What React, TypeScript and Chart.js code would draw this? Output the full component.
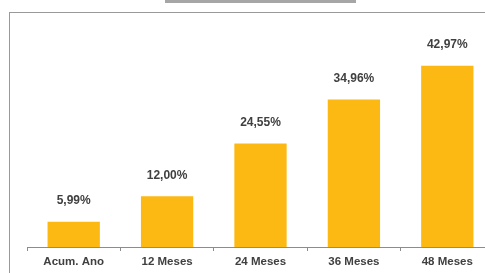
import React, { useEffect, useRef } from "react";
import { Chart, registerables } from "chart.js";

Chart.register(...registerables);

const categories = ["Acum. Ano", "12 Meses", "24 Meses", "36 Meses", "48 Meses"];
const values = [5.99, 12.0, 24.55, 34.96, 42.97];

const BAR_COLOR = "#FDB913";
const TEXT_COLOR = "#404040";
const FONT = "'Liberation Sans', Arial, sans-serif";

const valueLabels = {
  id: "valueLabels",
  afterDatasetsDraw(chart: any) {
    const ctx = chart.ctx;
    const meta = chart.getDatasetMeta(0);
    ctx.save();
    ctx.font = `bold 12px ${FONT}`;
    ctx.fillStyle = TEXT_COLOR;
    ctx.textAlign = "center";
    ctx.textBaseline = "middle";
    meta.data.forEach((bar: any, i: number) => {
      const v = values[i];
      const txt = v.toFixed(2).replace(".", ",") + "%";
      ctx.fillText(txt, bar.x, bar.y - 21);
    });
    ctx.restore();
  },
};

export default function App() {
  const ref = useRef<HTMLCanvasElement | null>(null);

  useEffect(() => {
    document.documentElement.style.overflow = "hidden";
    document.body.style.overflow = "hidden";
    const canvas = ref.current!;
    const chart = new Chart(canvas, {
      type: "bar",
      data: {
        labels: categories,
        datasets: [
          {
            data: values,
            backgroundColor: BAR_COLOR,
            borderWidth: 0,
            categoryPercentage: 1,
            barPercentage: 0.56,
          },
        ],
      },
      options: {
        animation: false,
        responsive: false,
        maintainAspectRatio: false,
        devicePixelRatio: 1,
        layout: { padding: { left: 27, right: 0, top: 36, bottom: 0 } },
        plugins: {
          legend: { display: false },
          tooltip: { enabled: false },
        },
        scales: {
          x: {
            afterFit(scale: any) {
              scale.height = 26;
            },
            grid: {
              display: true,
              drawOnChartArea: false,
              drawTicks: true,
              tickLength: 4,
              color: "#8c8c8c",
              offset: true,
            },
            border: { display: true, color: "#8c8c8c", width: 1 },
            ticks: {
              color: TEXT_COLOR,
              font: { family: FONT, size: 11.5, weight: "bold" },
              padding: 4,
              maxRotation: 0,
              autoSkip: false,
            },
          },
          y: {
            display: false,
            min: 0,
            max: 50,
          },
        },
      },
      plugins: [valueLabels],
    });
    return () => chart.destroy();
  }, []);

  return (
    <div style={{ position: "fixed", left: 0, top: 0, width: 485, height: 273, overflow: "hidden", background: "#fff" }}>
      <div style={{ position: "absolute", left: 165, top: 0, width: 191, height: 3, background: "#a6a6a6" }} />
      <div style={{ position: "absolute", left: 9, top: 12, width: 476, height: 1, background: "#999" }} />
      <div style={{ position: "absolute", left: 9, top: 12, width: 1, height: 261, background: "#999" }} />
      <canvas
        ref={ref}
        width={494}
        height={273}
        style={{ position: "absolute", left: 0, top: 0, width: 494, height: 273 }}
      />
    </div>
  );
}
